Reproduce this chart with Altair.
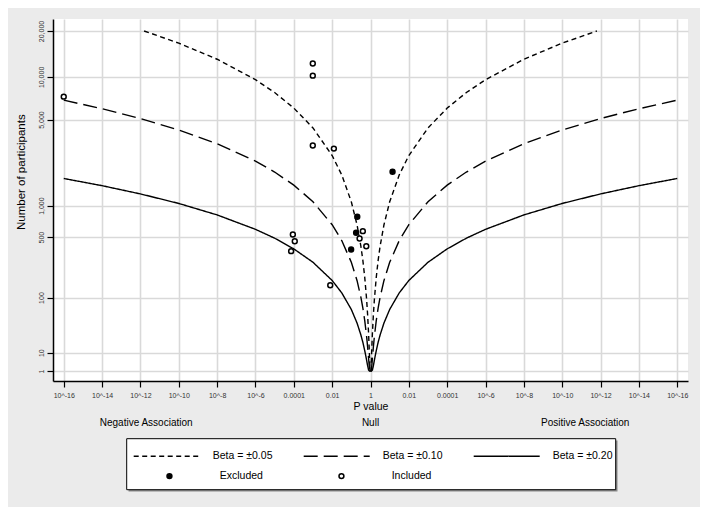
import altair as alt
import pandas as pd
import math

# ---- contour values: distance from p=1 in decades of p, number of participants
XV = [0, 0.02, 0.05, 0.1, 0.15, 0.2, 0.3, 0.4, 0.5, 0.7, 1, 1.5, 2, 3, 4, 5, 6, 8, 10, 12, 14, 16]
XV05 = [0, 0.02, 0.05, 0.1, 0.15, 0.2, 0.3, 0.4, 0.5, 0.7, 1, 1.5, 2, 3, 4, 5, 6, 8, 10, 11.81]
N05 = [1, 1.27, 7.5, 27.1, 56, 92.3, 181, 286, 402, 659, 1082, 1848, 2654, 4332, 6056, 7804, 9572, 13136, 16728, 20000]
N10 = [1, 1, 1.87, 6.79, 14.0, 23.1, 45.2, 71.5, 100.5, 164.8, 270.6, 462, 663.5, 1083, 1514, 1951, 2393, 3284, 4182, 5084, 5991, 6897]
N20 = [1, 1, 1, 1.70, 3.5, 5.77, 11.3, 17.9, 25.1, 41.2, 67.7, 115.5, 165.9, 270.8, 378.5, 488, 598, 821, 1046, 1271, 1498, 1724]
BETAS = ["Beta = \u00b10.05", "Beta = \u00b10.10", "Beta = \u00b10.20"]

# ---- studies (signed decades of p: negative = negative association)
INC_X = [-16, -3.01, -3.01, -3.01, -1.91, -4.05, -3.95, -4.14, -2.10, -0.40, -0.57, -0.22]
INC_N = [7300, 12300, 10200, 3180, 3010, 532, 455, 358, 145, 574, 485, 404]
EXC_X = [1.15, -0.69, -0.75, -1.01]
EXC_N = [1960, 789, 553, 373]

X_TICKS = list(range(-16, 17, 2))
Y_TICK_N = [1, 10, 100, 500, 1000, 5000, 10000, 20000]

ANNOT = ["Negative Association", "Null", "Positive Association"]
ANNOT_X = [-11.7, 0, 11.2]

FONT = "Liberation Sans"

rows = []
for lab, xs, ns in [(BETAS[0], XV05, N05), (BETAS[1], XV, N10), (BETAS[2], XV, N20)]:
    for side in (-1, 1):
        for xv, n in zip(xs, ns):
            rows.append({"beta": lab, "side": side, "x": side * xv, "n": n})
contours = pd.DataFrame(rows)

pts = pd.DataFrame(
    [{"x": x, "n": n, "status": "Included"} for x, n in zip(INC_X, INC_N)]
    + [{"x": x, "n": n, "status": "Excluded"} for x, n in zip(EXC_X, EXC_N)]
)

y_tick_vals = [math.log10(n) ** 2 for n in Y_TICK_N]

xscale = alt.Scale(domain=[-16.56, 16.56], nice=False, zero=False)
yscale = alt.Scale(domain=[-0.54, 19.15], nice=False, zero=False)

x_axis = alt.Axis(
    values=X_TICKS, tickCount=40,
    labelExpr="datum.value == 0 ? '1' : abs(datum.value) == 2 ? '0.01' : abs(datum.value) == 4 ? '0.0001' : '10^-' + abs(datum.value)",
    title="P value", titleFont=FONT, titleFontSize=10.5, titleFontWeight="normal",
    titleColor="black", titleBaseline="middle", titleY=25.6,
    labelFont=FONT, labelFontSize=7, labelColor="#333333", labelPadding=4,
    tickSize=6, tickColor="black", tickWidth=1.2, domainColor="black", domainWidth=1.5,
    grid=True, gridColor="#d9d9d9", gridWidth=1.6, labelFlush=False, labelOverlap=False,
)
y_axis = alt.Axis(
    values=y_tick_vals, tickCount=40,
    labelExpr="format(round(pow(10, sqrt(datum.value))), ',')",
    title="Number of participants", titleFont=FONT, titleFontSize=11.5, titleFontWeight="normal",
    titleColor="black", titleAngle=270, titleAlign="center", titleBaseline="middle",
    titleX=-31.6, titleY=152.7,
    labelFont=FONT, labelFontSize=7, labelColor="#333333", labelAngle=270,
    labelAlign="center", labelBaseline="bottom", labelPadding=3,
    tickSize=6, tickColor="black", tickWidth=1.2, domainColor="black", domainWidth=1.5,
    grid=True, gridColor="#d9d9d9", gridWidth=1.6, labelFlush=False, labelOverlap=False,
)

X = alt.X("x:Q", scale=xscale, axis=x_axis)
Y = alt.Y("yt:Q", scale=yscale, axis=y_axis)

box_df = pd.DataFrame({"k": [0]})
shadow = alt.Chart(box_df).mark_rect(fill="#8a8a8a").encode(
    x=alt.value(75.5), x2=alt.value(564.5), y=alt.value(421.5), y2=alt.value(472.5)
)
box = alt.Chart(box_df).mark_rect(fill="white", stroke="black", strokeWidth=1).encode(
    x=alt.value(73.7), x2=alt.value(562.7), y=alt.value(419.7), y2=alt.value(470.7)
)

lines = alt.Chart(contours).mark_line(color="black", strokeWidth=1.4).transform_calculate(
    yt="pow(log(datum.n) / LN10, 2)"
).encode(
    x=X, y=Y,
    strokeDash=alt.StrokeDash(
        "beta:N",
        scale=alt.Scale(domain=BETAS, range=[[5, 3.5], [14, 6], [1, 0]]),
        legend=alt.Legend(
            orient="none", legendX=79.7, legendY=403, direction="horizontal", columns=3,
            title=None, symbolType="stroke", symbolSize=4356, symbolStrokeColor="black",
            symbolStrokeWidth=1.4, labelFont=FONT, labelFontSize=10.5, labelColor="black",
            labelOffset=12, columnPadding=28, padding=0, labelLimit=200,
        ),
    ),
    detail="side:N",
    order="x:Q",
)

points = alt.Chart(pts).mark_point(filled=True, shape="circle", size=24, stroke="black",
                                   strokeWidth=1.5, opacity=1).transform_calculate(
    yt="pow(log(datum.n) / LN10, 2)"
).encode(
    x=X, y=Y,
    fill=alt.Fill(
        "status:N",
        scale=alt.Scale(domain=["Excluded", "Included"], range=["black", "white"]),
        legend=alt.Legend(
            orient="none", legendX=111.2, legendY=451.7, direction="horizontal", columns=2,
            title=None, symbolType="circle", symbolSize=24, symbolStrokeColor="black",
            symbolStrokeWidth=1.5, symbolOpacity=1, labelFont=FONT, labelFontSize=10.5,
            labelColor="black", labelOffset=45, columnPadding=72, padding=0,
        ),
    ),
)

annot_df = pd.DataFrame({"x": ANNOT_X, "label": ANNOT})
annots = alt.Chart(annot_df).mark_text(font=FONT, fontSize=10, color="black",
                                       baseline="middle", align="center").encode(
    x=alt.X("x:Q", scale=xscale), y=alt.value(403.7), text="label:N"
)

chart = alt.layer(shadow, box, lines, points, annots).properties(
    width=635, height=362,
    autosize=alt.AutoSizeParams(type="none"),
    padding={"left": 45, "top": 11, "right": 12, "bottom": 126},
).configure(background="#ebebeb").configure_view(fill="white", stroke=None)

chart.save("out.html", embed_options={"renderer": "svg", "actions": False})
